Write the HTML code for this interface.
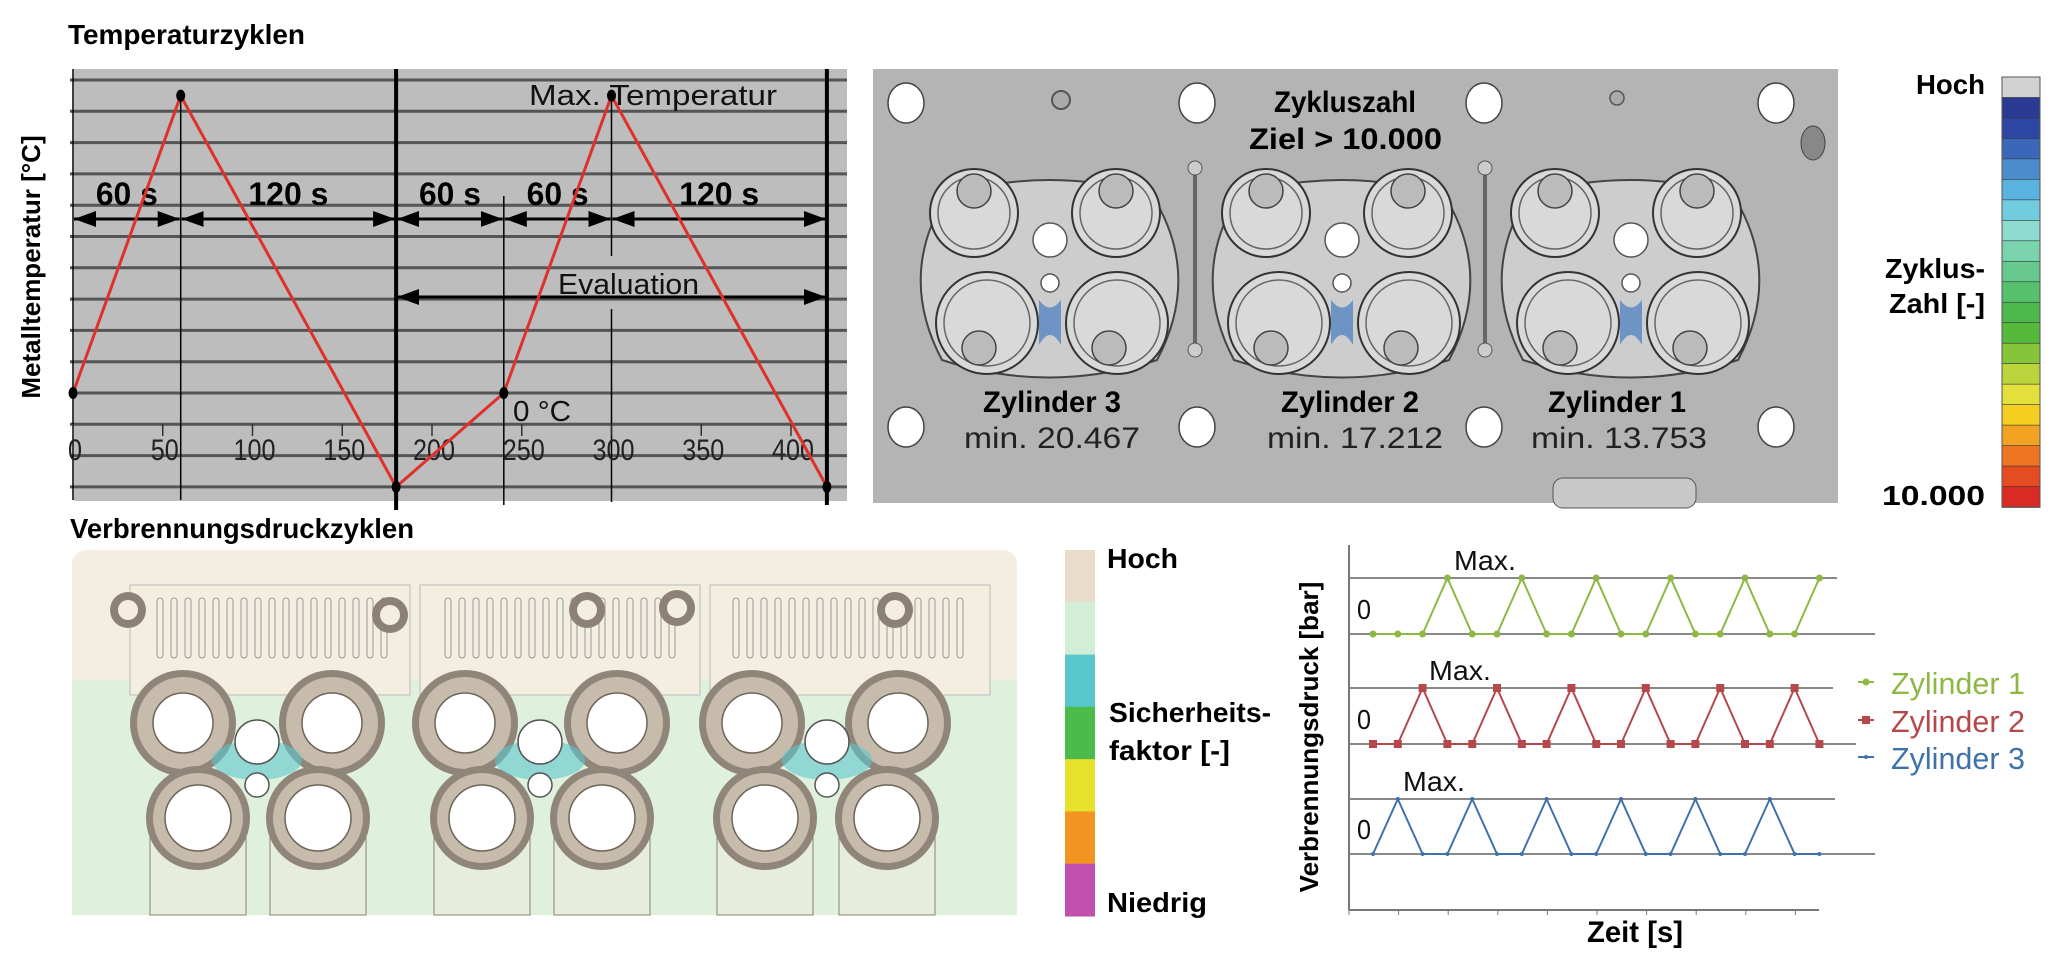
<!DOCTYPE html>
<html><head><meta charset="utf-8"><style>
html,body{margin:0;padding:0;background:#fff;}
svg{display:block;}
text{font-family:"Liberation Sans",sans-serif;}
.b{font-weight:bold;}
</style></head><body>
<svg id="root" width="2055" height="962" viewBox="0 0 2055 962" xmlns="http://www.w3.org/2000/svg">
<defs>
<marker id="ah" markerWidth="24" markerHeight="18" refX="22" refY="8" orient="auto-start-reverse" markerUnits="userSpaceOnUse"><path d="M0,0 L22,8 L0,16 z" fill="#000"/></marker>
</defs>

<!-- ===== Temperature chart ===== -->
<text x="68" y="44" class="b" font-size="28" textLength="237" lengthAdjust="spacingAndGlyphs">Temperaturzyklen</text>
<g id="tchart">
<rect x="74" y="69" width="773" height="432" fill="#bdbdbd"/>
<g id="tgrid"></g>
<g id="tvlines"></g>
<g id="tticks"></g>
<g id="tarrows"></g>
<g id="tline"></g>
<text x="529" y="105" font-size="29" fill="#111" textLength="248" lengthAdjust="spacingAndGlyphs">Max.    Temperatur</text>
<text x="513" y="421" font-size="29" fill="#111" textLength="58" lengthAdjust="spacingAndGlyphs">0 °C</text>
<text x="558" y="294" font-size="29" fill="#111" textLength="141" lengthAdjust="spacingAndGlyphs">Evaluation</text>
<text transform="translate(40,267) rotate(-90)" text-anchor="middle" font-size="26" class="b">Metalltemperatur [°C]</text>
</g>

<!-- ===== Top engine (Zykluszahl) ===== -->
<g>
<rect x="873" y="69" width="965" height="434" fill="#b4b4b4"/>
<g id="topholes"></g>
<g id="groups"></g>
<text x="1274" y="112" font-size="30" class="b" textLength="142" lengthAdjust="spacingAndGlyphs">Zykluszahl</text>
<text x="1249" y="149" font-size="30" class="b" textLength="193" lengthAdjust="spacingAndGlyphs">Ziel &gt; 10.000</text>
<text x="983" y="412" font-size="30" class="b" textLength="138" lengthAdjust="spacingAndGlyphs">Zylinder 3</text>
<text x="964" y="448" font-size="30" fill="#222" textLength="176" lengthAdjust="spacingAndGlyphs">min. 20.467</text>
<text x="1281" y="412" font-size="30" class="b" textLength="138" lengthAdjust="spacingAndGlyphs">Zylinder 2</text>
<text x="1267" y="448" font-size="30" fill="#222" textLength="176" lengthAdjust="spacingAndGlyphs">min. 17.212</text>
<text x="1548" y="412" font-size="30" class="b" textLength="138" lengthAdjust="spacingAndGlyphs">Zylinder 1</text>
<text x="1531" y="448" font-size="30" fill="#222" textLength="176" lengthAdjust="spacingAndGlyphs">min. 13.753</text>
</g>
<g id="cbar1"></g>
<text x="1916" y="94" font-size="28" class="b" textLength="69" lengthAdjust="spacingAndGlyphs">Hoch</text>
<text x="1885" y="278" font-size="28" class="b" textLength="100" lengthAdjust="spacingAndGlyphs">Zyklus-</text>
<text x="1889" y="313" font-size="28" class="b" textLength="96" lengthAdjust="spacingAndGlyphs">Zahl [-]</text>
<text x="1882" y="505" font-size="28" class="b" textLength="103" lengthAdjust="spacingAndGlyphs">10.000</text>

<!-- ===== Bottom engine ===== -->
<text x="70" y="538" class="b" font-size="28" textLength="344" lengthAdjust="spacingAndGlyphs">Verbrennungsdruckzyklen</text>
<g>
<rect x="72" y="550" width="945" height="365" fill="#f3eee0" rx="14"/>
<rect x="72" y="680" width="945" height="235" fill="#dff0dc"/>
<g id="botshapes"></g>
</g>
<g id="cbar2"></g>
<text x="1107" y="568" font-size="28" class="b" textLength="71" lengthAdjust="spacingAndGlyphs">Hoch</text>
<text x="1109" y="722" font-size="28" class="b" textLength="162" lengthAdjust="spacingAndGlyphs">Sicherheits-</text>
<text x="1109" y="760" font-size="28" class="b" textLength="121" lengthAdjust="spacingAndGlyphs">faktor [-]</text>
<text x="1107" y="912" font-size="28" class="b" textLength="100" lengthAdjust="spacingAndGlyphs">Niedrig</text>

<!-- ===== Pressure chart ===== -->
<g id="pchart">
<line x1="1349" y1="545" x2="1349" y2="910" stroke="#777" stroke-width="2"/>
<line x1="1349" y1="910" x2="1819" y2="910" stroke="#777" stroke-width="2"/>
<g id="pticks"></g>
<g id="pseries"></g>
<text transform="translate(1318,737) rotate(-90)" text-anchor="middle" font-size="26" class="b">Verbrennungsdruck [bar]</text>
<text x="1587" y="942" font-size="30" class="b" textLength="96" lengthAdjust="spacingAndGlyphs">Zeit [s]</text>
<g id="plegend"></g>
</g>
</svg>
<script>
// ---- temperature data ----
var tTimes=[0,60,180,240,300,420];
var tTemps=[0,9.5,-3,0,9.5,-3];
var tTickVals=[0,50,100,150,200,250,300,350,400];
var tTickLabels=["0","50","100","150","200","250","300","350","400"];
var arrowSpans=[[0,60],[60,180],[180,240],[240,300],[300,420]];
var arrowLabels=["60 s","120 s","60 s","60 s","120 s"];
var evalSpan=[180,420];
// ---- pressure data ----
var zyl1=[0,0,0,1,0,0,1,0,0,1,0,0,1,0,0,1,0,0,1];
var zyl2=[0,0,1,0,0,1,0,0,1,0,0,1,0,0,1,0,0,1,0];
var zyl3=[0,1,0,0,1,0,0,1,0,0,1,0,0,1,0,0,1,0,0];
var seriesNames=["Zylinder 1","Zylinder 2","Zylinder 3"];

var NS="http://www.w3.org/2000/svg";
function mk(tag,attrs,parent){var e=document.createElementNS(NS,tag);for(var k in attrs)e.setAttribute(k,attrs[k]);parent.appendChild(e);return e;}
function $(id){return document.getElementById(id);}

// temperature axes
function tx(t){return 73+1.795*t;}
function ty(v){return 393-v*31.3;}
var g=$('tgrid');
for(var k=-3;k<=10;k++){var l=mk('line',{x1:70,x2:847,y1:ty(k),y2:ty(k),stroke:'#555','stroke-width':3},g);}
var gv=$('tvlines');
mk('line',{x1:tx(0),x2:tx(0),y1:69,y2:500,stroke:'#000','stroke-width':1.5},gv);
mk('line',{x1:tx(60),x2:tx(60),y1:ty(9.5),y2:500,stroke:'#000','stroke-width':1.5},gv);
mk('line',{x1:tx(240),x2:tx(240),y1:196,y2:505,stroke:'#000','stroke-width':1.5},gv);
mk('line',{x1:tx(300),x2:tx(300),y1:ty(9.5),y2:256,stroke:'#000','stroke-width':1.5},gv);
mk('line',{x1:tx(300),x2:tx(300),y1:309,y2:502,stroke:'#000','stroke-width':1.5},gv);
mk('line',{x1:tx(180),x2:tx(180),y1:69,y2:510,stroke:'#000','stroke-width':4},gv);
mk('line',{x1:tx(420),x2:tx(420),y1:69,y2:505,stroke:'#000','stroke-width':4},gv);
var gt=$('tticks');
tTickVals.forEach(function(v,i){
  var tm=mk('line',{x1:tx(v),x2:tx(v),y1:424,y2:436,stroke:'#333','stroke-width':1.5},gt);
  
  var w=tTickLabels[i].length*14;
  var t=mk('text',{x:tx(v)+2-w/2,y:460,'font-size':30,fill:'#222',textLength:w,lengthAdjust:'spacingAndGlyphs'},gt);t.textContent=tTickLabels[i];
  
});
var ga=$('tarrows');
arrowSpans.forEach(function(s,i){
  var a=mk('line',{x1:tx(s[0])+1,x2:tx(s[1])-1,y1:219,y2:219,stroke:'#000','stroke-width':3,'marker-start':'url(#ah)','marker-end':'url(#ah)'},ga);
  
  var w=arrowLabels[i].length==4?62:80;
  var t=mk('text',{x:(tx(s[0])+tx(s[1]))/2-w/2,y:205,'font-size':32,'font-weight':'bold',textLength:w,lengthAdjust:'spacingAndGlyphs'},ga);t.textContent=arrowLabels[i];
  
});
var ea=mk('line',{x1:tx(evalSpan[0])+1,x2:tx(evalSpan[1])-1,y1:297,y2:297,stroke:'#000','stroke-width':3,'marker-start':'url(#ah)','marker-end':'url(#ah)'},ga);

var gl=$('tline');
var pts=tTimes.map(function(t,i){return tx(t)+','+ty(tTemps[i]);}).join(' ');
var pl=mk('polyline',{points:pts,fill:'none',stroke:'#e0302c','stroke-width':3},gl);

tTimes.forEach(function(t,i){var c=mk('ellipse',{cx:tx(t),cy:ty(tTemps[i]),rx:4.5,ry:6,fill:'#000'},gl);});

// ---- top engine decorative ----
var th=$('topholes');
[906,1197,1484,1776].forEach(function(x){
  [103,427].forEach(function(y){mk('ellipse',{cx:x,cy:y,rx:18,ry:20,fill:'#fff',stroke:'#444','stroke-width':1.5},th);});
});
mk('circle',{cx:1061,cy:100,r:9,fill:'#aaa',stroke:'#555','stroke-width':2},th);
mk('circle',{cx:1617,cy:98,r:7,fill:'#aaa',stroke:'#555','stroke-width':1.5},th);
mk('ellipse',{cx:1813,cy:143,rx:12,ry:17,fill:'#888',stroke:'#444'},th);
mk('rect',{x:1553,y:478,width:143,height:30,rx:10,fill:'#c8c8c8',stroke:'#555'},th);
[1195,1485].forEach(function(x){mk('line',{x1:x,x2:x,y1:170,y2:350,stroke:'#666','stroke-width':4},th);mk('circle',{cx:x,cy:168,r:7,fill:'#ccc',stroke:'#555'},th);mk('circle',{cx:x,cy:350,r:7,fill:'#ccc',stroke:'#555'},th);});
var gg=$('groups');
[0,292,581].forEach(function(dx){
  var x0=917+dx;
  mk('path',{d:'M'+(x0+30)+',195 Q'+(x0+132)+',165 '+(x0+235)+',195 Q'+(x0+285)+',275 '+(x0+240)+',360 Q'+(x0+132)+',395 '+(x0+25)+',360 Q'+(x0-20)+',275 '+(x0+30)+',195 z',fill:'#cdcdcd',stroke:'#444','stroke-width':2},gg);
  [[57,213,44],[199,213,44],[70,323,51],[200,323,51]].forEach(function(c){
    mk('circle',{cx:x0+c[0],cy:c[1],r:c[2],fill:'#d9d9d9',stroke:'#333','stroke-width':2},gg);
    mk('circle',{cx:x0+c[0],cy:c[1],r:c[2]-8,fill:'none',stroke:'#666','stroke-width':1.5},gg);
    mk('circle',{cx:x0+c[0]+(c[1]<250?0:-8),cy:c[1]+(c[1]<250?-22:25),r:17,fill:'#bbb',stroke:'#444','stroke-width':1.5},gg);
  });
  mk('path',{d:'M'+(x0+122)+',300 Q'+(x0+133)+',315 '+(x0+144)+',300 L'+(x0+144)+',345 Q'+(x0+133)+',325 '+(x0+122)+',345z',fill:'#2f6cc0',opacity:0.6},gg);
  mk('circle',{cx:x0+133,cy:240,r:17,fill:'#fff',stroke:'#555','stroke-width':1.5},gg);
  mk('circle',{cx:x0+133,cy:283,r:9,fill:'#fff',stroke:'#555','stroke-width':1.5},gg);
});
// colorbar 1
var cb1=["#d2d2d2","#2b3a92","#2c48a4","#3a67b8","#4a8ccc","#59b3de","#72ccdf","#8ddccf","#79d3ad","#67c98d","#57c06d","#4cb84e","#56b93c","#86c43a","#bbd43c","#e3df3b","#f4cf22","#f3a322","#ee7522","#e44c22","#d92b23"];
var g1=$('cbar1');var h1=(507-77)/cb1.length;
cb1.forEach(function(c,i){var r=mk('rect',{x:2002,y:77+i*h1,width:38,height:h1+0.5,fill:c,stroke:'#333','stroke-width':0.6},g1);});
mk('rect',{x:2002,y:77,width:38,height:430,fill:'none',stroke:'#555','stroke-width':1},g1);

// ---- bottom engine decorative ----
var bs=$('botshapes');
for(var i=0;i<3;i++){mk('rect',{x:130+i*290,y:585,width:280,height:110,fill:'#f3eee0',stroke:'#bbb'},bs);}
for(var s=0;s<3;s++){for(var j=0;j<17;j++){mk('rect',{x:157+s*288+j*14,y:598,width:6,height:60,rx:3,fill:'none',stroke:'#999','stroke-width':1},bs);}}
[[183,723,53,30],[332,723,53,30],[465,723,53,30],[617,723,53,30],[752,723,53,30],[898,723,53,30],[198,818,52,33],[318,818,52,33],[482,818,52,33],[602,818,52,33],[765,818,52,33],[887,818,52,33]].forEach(function(c){
  if(c[1]>800){mk('rect',{x:c[0]-48,y:c[1],width:96,height:97,fill:'#e6eedb',stroke:'#8a8074'},bs);}
  mk('circle',{cx:c[0],cy:c[1],r:c[2],fill:'#8f8578'},bs);
  mk('circle',{cx:c[0],cy:c[1],r:c[2]-7,fill:'#c7bcab'},bs);
  mk('circle',{cx:c[0],cy:c[1],r:c[3],fill:'#fff',stroke:'#6d645a','stroke-width':1.5},bs);
});
[[257,785],[540,785],[827,785]].forEach(function(c){
  mk('ellipse',{cx:c[0],cy:c[1]-25,rx:45,ry:20,fill:'#5ec6cf',opacity:0.6},bs);
  mk('circle',{cx:c[0],cy:c[1]-43,r:22,fill:'#fff',stroke:'#555','stroke-width':1.5},bs);
  mk('circle',{cx:c[0],cy:c[1],r:12,fill:'#fff',stroke:'#555','stroke-width':1.5},bs);
});
[[183,615],[642,615],[950,615]].forEach(function(c){mk('circle',{cx:c[0]-55,cy:c[1]-5,r:18,fill:'#8b8175'},bs);mk('circle',{cx:c[0]-55,cy:c[1]-5,r:10,fill:'#f3eee0'},bs);});
mk('circle',{cx:390,cy:615,r:18,fill:'#8b8175'},bs);mk('circle',{cx:390,cy:615,r:10,fill:'#f3eee0'},bs);
mk('circle',{cx:677,cy:608,r:18,fill:'#8b8175'},bs);mk('circle',{cx:677,cy:608,r:10,fill:'#f3eee0'},bs);
// colorbar 2
var cb2=["#e8dccb","#d2eed7","#56c7cb","#4cbb4b","#e6e22c","#f39321","#c14fae"];
var g2=$('cbar2');var h2=(916-550)/cb2.length;
cb2.forEach(function(c,i){var r=mk('rect',{x:1065,y:550+i*h2,width:30,height:h2+0.5,fill:c},g2);});

// ---- pressure chart ----
function px(i){return 1373+24.8*i;}
var pcfg=[{data:zyl1,base:634,top:578,color:"#8db843",topEnd:1837,baseEnd:1875,maxX:1454},
          {data:zyl2,base:744,top:688,color:"#b5484b",topEnd:1833,baseEnd:1856,maxX:1429},
          {data:zyl3,base:854,top:799,color:"#3f72aa",topEnd:1835,baseEnd:1875,maxX:1403}];
var ptk=$('pticks');
for(var i=0;i<=9;i++){mk('line',{x1:1349+i*49.6,x2:1349+i*49.6,y1:910,y2:915,stroke:'#777'},ptk);}
var ps=$('pseries');
pcfg.forEach(function(c,si){
  mk('line',{x1:1349,x2:c.topEnd,y1:c.top,y2:c.top,stroke:'#888','stroke-width':2},ps);
  mk('line',{x1:1349,x2:c.baseEnd,y1:c.base,y2:c.base,stroke:'#888','stroke-width':2},ps);
  var t=mk('text',{x:c.maxX,y:c.top-8,'font-size':28,fill:'#111',textLength:62,lengthAdjust:'spacingAndGlyphs'},ps);t.textContent='Max.';
  
  var z=mk('text',{x:1357,y:c.base-15,'font-size':28,fill:'#111',textLength:14,lengthAdjust:'spacingAndGlyphs'},ps);z.textContent='0';
  
  function py(v){return c.base-(c.base-c.top)*v;}
  var pts=c.data.map(function(v,i){return px(i)+','+py(v);}).join(' ');
  var l=mk('polyline',{points:pts,fill:'none',stroke:c.color,'stroke-width':2},ps);
  
  c.data.forEach(function(v,i){var m;
    if(si==1){m=mk('rect',{x:px(i)-4,y:py(v)-4,width:8,height:8,fill:c.color},ps);}
    else{m=mk('circle',{cx:px(i),cy:py(v),r:si==0?3.5:2,fill:c.color},ps);}
    });
});
var lg=$('plegend');
pcfg.forEach(function(c,i){
  var y=[682,720,757][i];
  mk('line',{x1:1858,x2:1874,y1:y,y2:y,stroke:c.color,'stroke-width':2},lg);
  if(i==1)mk('rect',{x:1862,y:y-4,width:8,height:8,fill:c.color},lg);else mk('circle',{cx:1866,cy:y,r:i==0?3.5:2,fill:c.color},lg);
  var t=mk('text',{x:1891,y:y+12,'font-size':31,fill:c.color,textLength:134,lengthAdjust:'spacingAndGlyphs'},lg);t.textContent=seriesNames[i];
  
});
</script>
</body></html>
